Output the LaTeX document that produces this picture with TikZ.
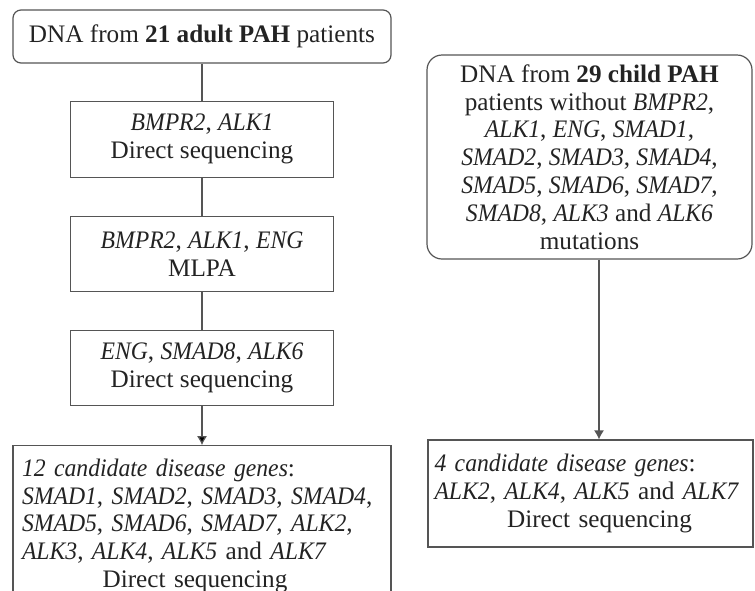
\documentclass[tikz,border=0pt]{standalone}
\usepackage{fontspec}
\setmainfont{Liberation Serif}[ItalicFeatures={FakeStretch=0.94}]
\usetikzlibrary{arrows.meta,positioning}
\definecolor{linegray}{RGB}{85,85,85}
\definecolor{textgray}{RGB}{35,35,35}

\begin{document}
\begin{tikzpicture}[x=1pt,y=1pt,>={Latex[length=9pt,width=10pt]},
	box node/.style={draw=linegray,line width=1.2pt,text=textgray,inner sep=0pt,
		font=\fontsize{25.2}{27.8}\selectfont},
	main node/.style={box node,align=center},
	round node/.style={main node,rounded corners=8pt},
	gene list/.style={box node,align=left,inner xsep=9pt,inner ysep=9pt},
	link/.style={draw=linegray,line width=1.2pt}]
	\clip (0,0) rectangle (755,-590);
	
	% adult patients
	\node[round node,minimum width=378pt,minimum height=53pt] (a) at (202,-36.5) {DNA from \textbf{21 adult PAH} patients};
	\node[main node,minimum width=263pt,minimum height=76pt,below=37pt of a] (b) {\textit{BMPR2}, \textit{ALK1}\\Direct sequencing};
	\node[main node,minimum width=263pt,minimum height=75pt,below=38pt of b] (c) {\textit{BMPR2}, \textit{ALK1}, \textit{ENG}\\MLPA};
	\node[main node,minimum width=263pt,minimum height=75pt,below=38pt of c] (d) {\textit{ENG}, \textit{SMAD8}, \textit{ALK6}\\Direct sequencing};
	\node[gene list,text width=360pt,minimum height=160pt,below=39pt of d] (e) {\textit{12 candidate disease genes}:\\
		\textit{SMAD1}, \textit{SMAD2}, \textit{SMAD3}, \textit{SMAD4},\\
		\textit{SMAD5}, \textit{SMAD6}, \textit{SMAD7}, \textit{ALK2},\\
		\textit{ALK3}, \textit{ALK4}, \textit{ALK5} and \textit{ALK7}\\
		\makebox[346pt]{Direct sequencing}};
	
	% child patients
	\node[main node,rounded corners=15pt,minimum width=325pt,minimum height=204pt] (f) at (589.5,-157) {DNA from \textbf{29 child PAH}\\
		patients without \textit{BMPR2},\\
		\textit{ALK1}, \textit{ENG}, \textit{SMAD1},\\
		\textit{SMAD2}, \textit{SMAD3}, \textit{SMAD4},\\
		\textit{SMAD5}, \textit{SMAD6}, \textit{SMAD7},\\
		\textit{SMAD8}, \textit{ALK3} and \textit{ALK6}\\
		mutations};
	\node[gene list,text width=312pt,minimum width=325pt,minimum height=107pt,inner xsep=6.5pt] (g) at (590.5,-493.5) {\textit{4 candidate disease genes}:\\
		\textit{ALK2}, \textit{ALK4}, \textit{ALK5} and \textit{ALK7}\\
		\makebox[330pt]{Direct sequencing}};
	
	\path[link]
	(a) edge (b)
	(b) edge (c)
	(c) edge (d)
	(d) edge[->] (e);
	\draw[link,->] ([xshift=9.5pt]f.south) -- ([xshift=8.5pt]g.north);
\end{tikzpicture}
\end{document}
